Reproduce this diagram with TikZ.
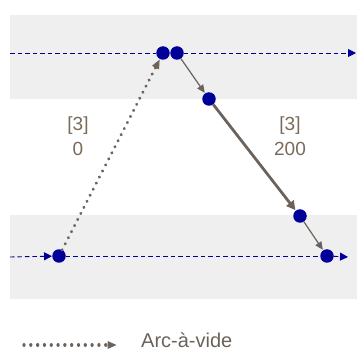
\documentclass[tikz,border=0pt]{standalone}
\usepackage{fontspec}
\setmainfont{Liberation Sans}
\usetikzlibrary{arrows.meta}
\definecolor{band}{HTML}{EFEFEF}
\definecolor{dotblue}{HTML}{000099}
\definecolor{arcgray}{HTML}{6B635B}
\definecolor{lbl}{HTML}{7A6A5A}
\tikzset{
  pt/.style={circle,fill=dotblue,inner sep=0pt,minimum size=13.5pt},
  timeline/.style={dotblue,line width=0.9pt,dash pattern=on 4.5pt off 3pt},
  arc/.style={arcgray,-{Triangle[length=8pt,width=7pt]},shorten >=0.5pt},
  thinarc/.style={arc,line width=1.2pt,-{Triangle[length=8pt,width=7pt]}},
  thickarc/.style={arc,line width=2.8pt,-{Triangle[length=9pt,width=9pt]}},
  vide/.style={arc,line width=3.3pt,dash pattern=on 0.01pt off 6.8pt,line cap=round,-{Triangle[length=9pt,width=8pt,line width=0pt,line cap=butt]}},
  lab/.style={lbl,font=\fontsize{19}{25}\selectfont,align=center}
}
\begin{document}
\begin{tikzpicture}[x=1pt,y=-1pt]
\useasboundingbox (0,0) rectangle (357,353);
\fill[band] (10,15) rectangle (357,99);
\fill[band] (10,215) rectangle (357,299);
% time lines
\coordinate (t0) at (10,53);
\coordinate (t1) at (356,53);
\coordinate (b0) at (10,257);
\coordinate (b1) at (348,257);
\node[pt] (a) at (163,53) {};
\node[pt] (b) at (177,53) {};
\node[pt] (c) at (209,99) {};
\node[pt] (d) at (300,216) {};
\node[pt] (e) at (59,256) {};
\node[pt] (f) at (327,256) {};
\draw[timeline] (t0) -- (a);
\draw[timeline,-{Triangle[length=8pt,width=8pt]}] (b) -- (t1);
\draw[timeline,-{Triangle[length=8pt,width=8pt]}] (b0) -- (e);
\draw[timeline,-{Triangle[length=8pt,width=8pt]}] (f) -- (b1);
\draw[timeline] (e) -- (f);
% arcs
\draw[vide] (e) -- (a);
\draw[thinarc] (b) -- (c);
\draw[thickarc] (c) -- (d);
\draw[thinarc] (d) -- (f);
% labels
\node[lab] (l1) at (78,136) {[3]\\0};
\node[lab] (l2) at (290,136) {[3]\\200};
% legend
\coordinate (g0) at (24,345);
\coordinate (g1) at (117,345);
\draw[vide] (g0) -- (g1);
\node[anchor=base west,inner sep=0pt,text=arcgray,font=\fontsize{20}{24}\selectfont] (gl) at (141,348) {Arc-à-vide};
\end{tikzpicture}
\end{document}
